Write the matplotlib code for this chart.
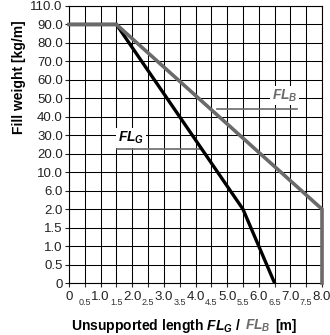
import numpy as np
import matplotlib
matplotlib.use("Agg")
import matplotlib.pyplot as plt

plt.rcParams["font.family"] = "Liberation Sans"
plt.rcParams["mathtext.fontset"] = "custom"
plt.rcParams["mathtext.it"] = "Liberation Sans:italic:bold"
plt.rcParams["mathtext.rm"] = "Liberation Sans:bold"
plt.rcParams["mathtext.bf"] = "Liberation Sans:bold"

# weight steps on the y axis (kg/m), drawn evenly spaced
weight_steps = [0, 0.5, 1.0, 1.5, 2.0, 6.0, 10.0, 20.0, 30.0, 40.0,
                50.0, 60.0, 70.0, 80.0, 90.0, 110.0]
weight_labels = ["0"] + [f"{v:.1f}" for v in weight_steps[1:]]

# unsupported length ticks (m)
length_major = [0, 1, 2, 3, 4, 5, 6, 7, 8]
length_major_labels = ["0", "1.0", "2.0", "3.0", "4.0", "5.0", "6.0", "7.0", "8.0"]
length_minor = [0.5, 1.5, 2.5, 3.5, 4.5, 5.5, 6.5, 7.5]
length_minor_labels = ["0.5", "1.5", "2.5", "3.5", "4.5", "5.5", "6.5", "7.5"]

# load curves
fl_g_length = [0, 1.5, 5.5, 6.5]
fl_g_weight = [90.0, 90.0, 2.0, 0.0]
fl_b_length = [0, 1.5, 8.0, 8.0]
fl_b_weight = [90.0, 90.0, 2.0, 0.0]

GREY = "#6a6a6a"

step_idx = np.arange(len(weight_steps))


def to_step(v):
    return np.interp(v, weight_steps, step_idx)


def from_step(i):
    return np.interp(i, step_idx, weight_steps)


fig = plt.figure(figsize=(3.3, 3.35), dpi=100)
ax = fig.add_axes([69 / 330, 1 - 283 / 335, 253 / 330, 277 / 335])

ax.set_yscale("function", functions=(to_step, from_step))
ax.set_xlim(0, 8)
ax.set_ylim(0, 110)

ax.set_yticks(weight_steps, weight_labels)
ax.set_xticks(length_major, length_major_labels)
ax.set_xticks(length_minor, length_minor_labels, minor=True)

ax.tick_params(axis="y", which="major", length=3, width=0.8, pad=1.5,
               labelsize=9.5, colors="#222222")
ax.tick_params(axis="x", which="major", length=3, width=0.8, pad=2.5,
               labelsize=9.5, colors="#222222")
ax.tick_params(axis="x", which="minor", length=3, width=0.8, pad=8,
               labelsize=6.5, colors="#333333")

ax.grid(True, which="both", color="black", linewidth=0.75)
ax.set_axisbelow(True)
for sp in ax.spines.values():
    sp.set_linewidth(0.8)

ax.plot(fl_g_length, fl_g_weight, color="black", linewidth=2.4,
        solid_joinstyle="miter", zorder=3)
ax.plot(fl_b_length, fl_b_weight, color=GREY, linewidth=2.6,
        solid_joinstyle="miter", zorder=4, clip_on=False)

# leader for FL_G: runs from the label to the black curve
y_g = 22.5
x_g_end = np.interp(to_step(y_g), to_step(fl_g_weight[::-1]), fl_g_length[::-1])
ax.plot([1.52, x_g_end], [y_g, y_g], color=GREY, linewidth=1.2, zorder=2.5)
ax.text(1.55, 26.5, "$FL_G$", fontsize=10, color="black", ha="left",
        va="baseline", zorder=5,
        bbox=dict(facecolor="white", edgecolor="none", pad=1.2))

# leader for FL_B
y_b = 44.0
ax.plot([4.68, 7.22], [y_b, y_b], color=GREY, linewidth=1.2, zorder=2.5)
ax.text(6.42, 49.5, "$FL_B$", fontsize=10, color=GREY, ha="left",
        va="baseline", zorder=5,
        bbox=dict(facecolor="white", edgecolor="none", pad=1.2))

fig.text(19 / 330, 1 - 77 / 335, "Fill weight [kg/m]", rotation=90,
         ha="center", va="center", fontsize=10, fontweight="bold")

# x label in three pieces so FL_B can be grey
base_y = (283 - 330) / 277
t1 = ax.text(0.008, base_y, "Unsupported length $FL_G$ /", transform=ax.transAxes,
             fontsize=10, fontweight="bold", va="baseline", ha="left")
t2 = ax.text(0, base_y, "$FL_B$", transform=ax.transAxes, fontsize=10,
             color=GREY, va="baseline", ha="left")
t3 = ax.text(0, base_y, "[m]", transform=ax.transAxes, fontsize=10,
             fontweight="bold", va="baseline", ha="left")

fig.canvas.draw()
inv = ax.transAxes.inverted()
for prev, cur, gap in [(t1, t2, 4), (t2, t3, 4)]:
    bb = prev.get_window_extent()
    cur.set_x(inv.transform((bb.x1 + gap, 0))[0])

fig.savefig("out.png", dpi=100)
